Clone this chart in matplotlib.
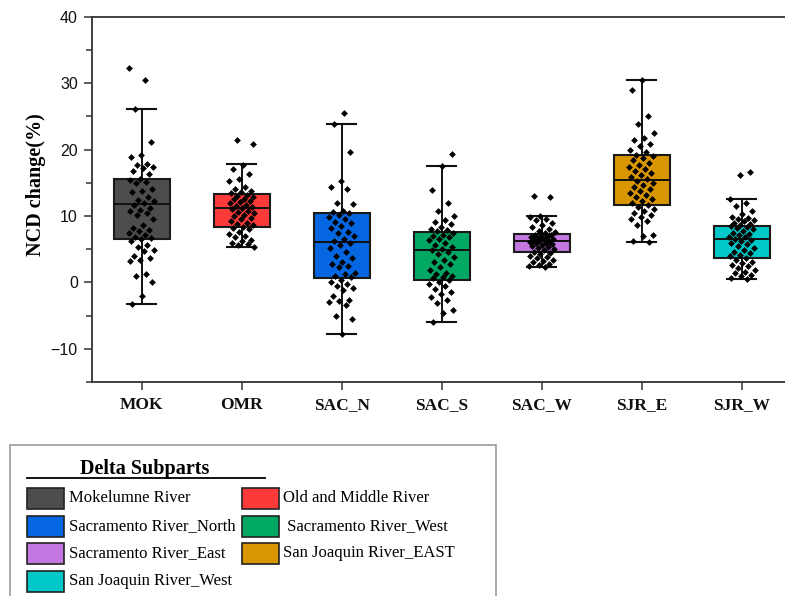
import numpy as np
import matplotlib
matplotlib.use("Agg")
import matplotlib.pyplot as plt
from matplotlib.patches import Rectangle

# ---------------- data ----------------
categories = ["MOK", "OMR", "SAC_N", "SAC_S", "SAC_W", "SJR_E", "SJR_W"]
legend_labels = ["Mokelumne River", "Old and Middle River", "Sacramento River_North",
                 " Sacramento River_West", "Sacramento River_East",
                 "San Joaquin River_EAST", "San Joaquin River_West"]
colors = ["#4d4d4d", "#fc3a3a", "#0466e0", "#00a863", "#c278e0", "#d99600", "#00c8c8"]

q1 = [6.5, 8.4, 0.7, 0.4, 4.6, 11.6, 3.7]
med = [11.8, 11.2, 6.1, 4.8, 6.3, 15.45, 6.6]
q3 = [15.55, 13.3, 10.45, 7.6, 7.3, 19.2, 8.5]
whislo = [-3.2, 5.4, -7.7, -6.0, 2.3, 6.1, 0.5]
whishi = [26.1, 17.75, 23.8, 17.5, 10.0, 30.4, 12.5]

MOK = [32.3, 30.5, 26.1, 21.1, 19.2, 18.9, 17.8, 17.7, 17.4, 17.2, 16.8, 16.3, 15.6, 15.4,
       15.1, 14.9, 14.0, 13.8, 13.6, 12.9, 12.4, 12.2, 11.9, 11.6, 11.2, 10.9, 10.8, 10.4,
       10.2, 9.5, 8.6, 8.2, 7.9, 7.8, 7.4, 7.2, 6.9, 6.7, 6.5, 6.3, 5.7, 5.3, 4.9, 4.7,
       4.0, 3.6, 3.4, 3.2, 1.3, 1.0, 0.0, -2.0, -3.2]
OMR = [21.5, 20.9, 17.7, 17.0, 16.3, 15.6, 15.3, 14.4, 14.0, 13.8, 13.6, 13.4, 13.2, 13.0,
       12.8, 12.6, 12.5, 12.3, 12.1, 11.9, 11.7, 11.5, 11.3, 11.2, 11.0, 10.8, 10.6, 10.4,
       10.2, 10.0, 9.7, 9.5, 9.2, 9.0, 8.8, 8.6, 8.4, 8.2, 8.0, 7.6, 7.3, 7.0, 6.8, 6.4,
       6.2, 6.0, 5.8, 5.6, 5.4]
SAC_N = [25.5, 23.8, 19.7, 15.2, 14.4, 14.1, 12.0, 11.8, 10.8, 10.6, 10.4, 10.2, 9.8, 9.5,
         9.1, 8.9, 8.5, 8.2, 7.6, 7.4, 7.0, 6.6, 6.3, 6.0, 5.6, 5.2, 4.6, 4.0, 3.6, 3.0,
         2.7, 2.5, 2.3, 1.4, 1.2, 1.0, 0.8, 0.4, 0.0, -0.3, -0.6, -0.9, -1.2, -2.0, -2.6,
         -2.8, -2.9, -3.4, -5.0, -5.5, -7.7]
SAC_S = [19.3, 17.5, 13.9, 11.9, 10.8, 10.0, 9.4, 9.1, 8.8, 8.3, 8.1, 7.9, 7.7, 7.4, 7.2,
         7.0, 6.8, 6.6, 6.4, 6.0, 5.7, 5.4, 5.0, 4.8, 4.6, 4.2, 3.8, 3.4, 3.0, 2.7, 2.3,
         1.8, 1.4, 1.2, 1.0, 0.8, 0.6, 0.4, 0.1, -0.2, -0.6, -1.0, -1.4, -1.8, -2.2, -2.6,
         -3.1, -4.1, -4.6, -6.0]
SAC_W = [13.0, 12.8, 10.0, 9.8, 9.5, 9.4, 9.0, 8.6, 8.3, 8.0, 7.8, 7.6, 7.4, 7.2, 7.1, 7.0,
         6.9, 6.8, 6.7, 6.6, 6.5, 6.4, 6.3, 6.2, 6.1, 6.0, 5.9, 5.8, 5.7, 5.5, 5.4, 5.2,
         5.0, 4.8, 4.6, 4.4, 4.2, 4.0, 3.8, 3.6, 3.4, 3.2, 3.0, 2.8, 2.6, 2.4, 2.3]
SJR_E = [30.4, 28.9, 25.0, 23.8, 22.5, 21.7, 21.5, 20.8, 20.5, 20.0, 19.6, 19.2, 19.0, 18.7,
         18.4, 18.0, 17.7, 17.3, 17.0, 16.7, 16.4, 16.1, 15.8, 15.5, 15.3, 15.0, 14.7, 14.4,
         14.1, 13.8, 13.5, 13.2, 12.8, 12.5, 12.2, 11.9, 11.6, 11.3, 11.0, 10.7, 10.4, 10.1,
         9.8, 9.5, 9.3, 8.6, 7.2, 7.0, 6.3, 6.1]
SJR_W = [16.6, 16.1, 12.5, 11.9, 11.5, 10.8, 10.3, 9.9, 9.7, 9.5, 9.4, 9.2, 9.0, 8.8, 8.7,
         8.5, 8.3, 8.2, 8.0, 7.7, 7.5, 7.3, 7.1, 6.9, 6.8, 6.6, 6.4, 6.2, 6.0, 5.8, 5.5,
         5.2, 4.9, 4.6, 4.4, 4.1, 3.9, 3.7, 3.4, 3.1, 2.9, 2.6, 2.4, 2.1, 1.9, 1.6, 1.4,
         1.1, 0.9, 0.7, 0.5]
points = [MOK, OMR, SAC_N, SAC_S, SAC_W, SJR_E, SJR_W]

yticks = [-10, 0, 10, 20, 30, 40]

# ---------------- figure ----------------
W, H = 785, 596
fig = plt.figure(figsize=(W / 100, H / 100), dpi=100)

serif = "Liberation Serif"
sans = "Liberation Sans"

ax_left, ax_right_px, ax_top, ax_bot = 91.7, 791.7, 16.7, 382.0
ax = fig.add_axes([ax_left / W, 1 - ax_bot / H, (ax_right_px - ax_left) / W, (ax_bot - ax_top) / H])

stats = []
for i in range(len(categories)):
    stats.append(dict(med=med[i], q1=q1[i], q3=q3[i], whislo=whislo[i], whishi=whishi[i],
                      fliers=[], label=categories[i]))

positions = np.arange(1, len(categories) + 1)
bp = ax.bxp(stats, positions=positions, widths=0.56, capwidths=0.29, patch_artist=True,
            showfliers=False,
            boxprops=dict(linewidth=1.5, edgecolor="#1a1a1a"),
            medianprops=dict(linewidth=1.4, color="#111111"),
            whiskerprops=dict(linewidth=1.4, color="#111111"),
            capprops=dict(linewidth=1.5, color="#111111"))
for patch, c in zip(bp["boxes"], colors):
    patch.set_facecolor(c)
    patch.set_zorder(2)

for i, vals in enumerate(points):
    n = len(vals)
    offs = ((np.arange(n) * 0.6180339887 + 0.3 * i) % 1.0 - 0.5) * 0.26
    ax.scatter(positions[i] + offs, vals, marker="D", s=12, color="black", zorder=4,
               linewidths=0)

ax.set_xlim(0.5, 7.5)
ax.set_ylim(-15, 40)
ax.set_xticks(positions)
ax.set_xticklabels(categories, fontfamily=serif, fontweight="bold", fontsize=12.5)
ax.set_yticks(yticks)
ax.set_yticklabels([f"{v:d}".replace("-", "\u2212") for v in yticks], fontfamily=sans, fontsize=11.5)
ax.set_yticks(np.arange(-15, 41, 5), minor=True)
ax.tick_params(axis="y", which="major", length=6, width=1.1, pad=4, colors="#333333", labelcolor="#111111")
ax.tick_params(axis="y", which="minor", length=4, width=1.1, colors="#333333")
ax.tick_params(axis="x", which="major", length=6, width=1.1, pad=5, colors="#333333", labelcolor="#111111")
for s in ["left", "bottom", "top"]:
    ax.spines[s].set_linewidth(1.3)
    ax.spines[s].set_color("#333333")
ax.spines["right"].set_visible(False)

ax.set_ylabel("NCD change(%)", fontfamily=serif, fontweight="bold", fontsize=14.5)
ax.yaxis.set_label_coords(-0.066, 0.54)

# ---------------- legend (drawn in pixel coordinates) ----------------
lg = fig.add_axes([0, 0, 1, 1], zorder=-1)
lg.set_xlim(0, W)
lg.set_ylim(H, 0)
lg.axis("off")
lg.add_patch(Rectangle((10, 445), 486, 170, facecolor="white", edgecolor="#999999", linewidth=1.2))
lg.text(145, 469, "Delta Subparts", fontfamily=serif, fontweight="bold", fontsize=14.5,
        ha="center", va="center")
lg.plot([27, 265], [478, 478], color="black", linewidth=1.3)

rows_y = [498, 526, 553, 581]
col_px = [(27, 69), (242, 283)]
for k, (lab, c) in enumerate(zip(legend_labels, colors)):
    r, col = divmod(k, 2)
    px, tx = col_px[col]
    y = rows_y[r]
    lg.add_patch(Rectangle((px, y - 10.5), 37, 21, facecolor=c, edgecolor="#222222", linewidth=1.2))
    lg.text(tx, y, lab, fontfamily=serif, fontsize=12, ha="left", va="center")

fig.savefig("out.png", dpi=100)
